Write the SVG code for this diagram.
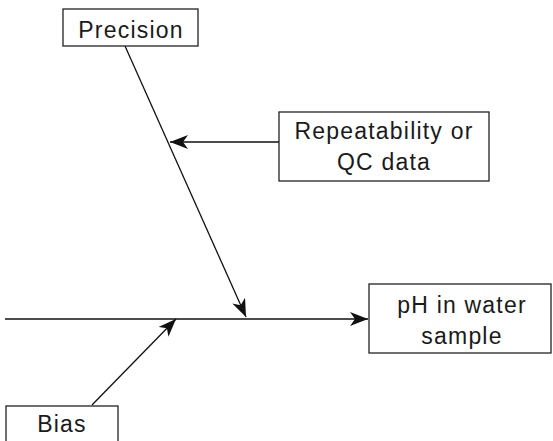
<svg xmlns="http://www.w3.org/2000/svg" width="553" height="441" viewBox="0 0 553 441">
<style>
.box{fill:#fff;stroke:#222;stroke-width:1.3}
.t{font-family:"Liberation Sans",Arial,sans-serif;font-size:23px;fill:#1a1a1a;text-anchor:middle;letter-spacing:1.2px}
.c{stroke:#111;stroke-width:1.3;fill:none}
</style>
<defs>
<marker id="ah" markerUnits="userSpaceOnUse" markerWidth="20" markerHeight="14" viewBox="0 0 20 14" refX="18" refY="7" orient="auto">
<path d="M0,0 L18,7 L0,14 L5,7 z" fill="#111"/>
</marker>
</defs>
<g id="connectors">
<line class="c" x1="5" y1="319" x2="368" y2="319" marker-end="url(#ah)"/>
<line class="c" x1="125" y1="46" x2="246" y2="317" marker-end="url(#ah)"/>
<line class="c" x1="279" y1="142" x2="170" y2="142" marker-end="url(#ah)"/>
<line class="c" x1="92" y1="405" x2="176" y2="319" marker-end="url(#ah)"/>
</g>
<g id="precision">
<rect class="box" x="63" y="9" width="135" height="37"/>
<text class="t" x="131" y="38">Precision</text>
</g>
<g id="repeatability">
<rect class="box" x="279" y="112" width="210" height="69"/>
<text class="t" x="384" y="139">Repeatability or</text>
<text class="t" x="384" y="170">QC data</text>
</g>
<g id="ph">
<rect class="box" x="369" y="284" width="182" height="69"/>
<text class="t" x="462" y="313">pH in water</text>
<text class="t" x="462" y="344">sample</text>
</g>
<g id="bias">
<rect class="box" x="6" y="406" width="112" height="45"/>
<text class="t" x="62" y="432">Bias</text>
</g>
</svg>
